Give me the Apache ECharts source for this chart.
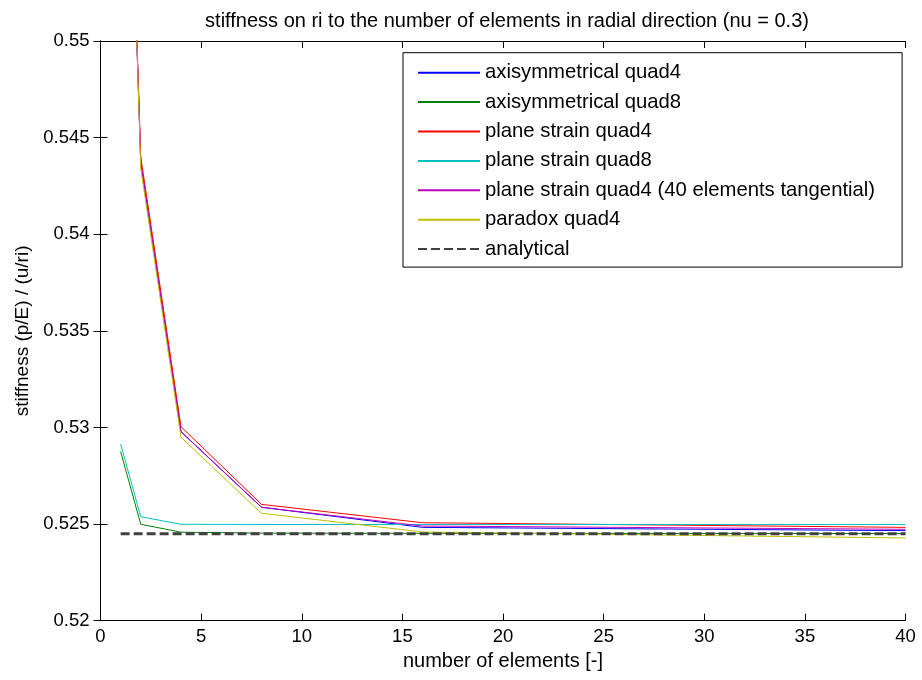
<!DOCTYPE html>
<html>
<head>
<meta charset="utf-8">
<script src="https://cdn.jsdelivr.net/npm/echarts@6/dist/echarts.min.js"></script>
<style>html,body{margin:0;padding:0;background:#fff;}#c{width:922px;height:680px;}</style>
</head>
<body>
<div id="c"></div>
<script>
const xs = [1, 2, 4, 8, 16, 40];
const axiQuad4 = [0.5760, 0.5437, 0.52978, 0.52587, 0.52483, 0.52466];
const axiQuad8 = [0.52875, 0.52499, 0.52458, 0.52453, 0.52452, 0.52451];
const psQuad4 = [0.5760, 0.5440, 0.53004, 0.52602, 0.52507, 0.52483];
const psQuad8 = [0.52914, 0.52538, 0.52499, 0.52498, 0.52498, 0.52498];
const psQuad4Tang = [0.5760, 0.5437, 0.52978, 0.52587, 0.52490, 0.52473];
const paradoxQuad4 = [0.5770, 0.5434, 0.52949, 0.52556, 0.52459, 0.52428];
const analyticalX = [1, 40];
const analyticalY = [0.5245, 0.5245];
const names = ['axisymmetrical quad4', 'axisymmetrical quad8', 'plane strain quad4', 'plane strain quad8', 'plane strain quad4 (40 elements tangential)', 'paradox quad4', 'analytical'];
const colors = ['#0000ff', '#008000', '#ff0000', '#00bfbf', '#bf00bf', '#bfbf00', '#404040'];
const xTicks = [0, 5, 10, 15, 20, 25, 30, 35, 40];
const yTicks = [0.52, 0.525, 0.53, 0.535, 0.54, 0.545, 0.55];

const FONT = 'Liberation Sans, Arial, Helvetica, sans-serif';
const pair = (xa, ya) => xa.map((x, i) => [x, ya[i]]);
const seriesData = [axiQuad4, axiQuad8, psQuad4, psQuad8, psQuad4Tang, paradoxQuad4];

const series = seriesData.map((d, i) => ({
  name: names[i], type: 'line', data: pair(xs, d), symbol: 'none', clip: true,
  xAxisIndex: 0, yAxisIndex: 0,
  lineStyle: { color: colors[i], width: 1 }, itemStyle: { color: colors[i] },
  emphasis: { disabled: true }, animation: false
}));
series.push({
  name: names[6], type: 'line', data: pair(analyticalX, analyticalY), symbol: 'none', clip: true,
  lineStyle: { color: colors[6], width: 3, type: [9, 4] }, itemStyle: { color: colors[6] },
  emphasis: { disabled: true }, animation: false
});

const axisCommon = {
  axisLine: { show: true, lineStyle: { color: '#000', width: 1 } },
  axisTick: { show: true, inside: true, length: 7, lineStyle: { color: '#000', width: 1 } },
  splitLine: { show: false }
};

const chart = echarts.init(document.getElementById('c'), null, { renderer: 'canvas' });
chart.setOption({
  animation: false,
  backgroundColor: '#fff',
  title: {
    text: 'stiffness on ri to the number of elements in radial direction (nu = 0.3)',
    left: 502, top: 6, textAlign: 'center',
    textStyle: { fontFamily: FONT, fontSize: 20, fontWeight: 'normal', color: '#000' }
  },
  grid: { left: 100.5, right: 16.5, top: 41, bottom: 59.3, containLabel: false },
  legend: {
    orient: 'vertical', left: 403, top: 52.7,
    data: names,
    backgroundColor: '#fff', borderColor: '#000', borderWidth: 1,
    padding: [10, 27, 8, 14],
    itemWidth: 62, itemHeight: 14, itemGap: 9.4,
    itemStyle: { opacity: 0, color: 'transparent', borderColor: 'transparent', borderWidth: 0 },
    textStyle: { fontFamily: FONT, fontSize: 20.3, color: '#000', lineHeight: 20 }
  },
  xAxis: [
    Object.assign({
      type: 'value', min: 0, max: 40, interval: 5, position: 'bottom',
      name: 'number of elements [-]', nameLocation: 'middle', nameGap: 30,
      nameTextStyle: { fontFamily: FONT, fontSize: 20, color: '#000' },
      axisLabel: { fontFamily: FONT, fontSize: 18.5, color: '#000', margin: 7 }
    }, axisCommon),
    Object.assign({
      type: 'value', min: 0, max: 40, interval: 5, position: 'top',
      axisLabel: { show: false }
    }, axisCommon)
  ],
  yAxis: [
    Object.assign({
      type: 'value', min: 0.52, max: 0.55, interval: 0.005, position: 'left',
      name: 'stiffness (p/E) / (u/ri)', nameLocation: 'middle', nameGap: 67,
      nameTextStyle: { fontFamily: FONT, fontSize: 19, color: '#000' },
      axisLabel: { fontFamily: FONT, fontSize: 18.5, color: '#000', margin: 11,
        formatter: v => String(parseFloat(v.toFixed(3))) }
    }, axisCommon),
    Object.assign({
      type: 'value', min: 0.52, max: 0.55, interval: 0.005, position: 'right',
      axisLabel: { show: false }
    }, axisCommon)
  ],
  series: series
});
</script>
</body>
</html>
